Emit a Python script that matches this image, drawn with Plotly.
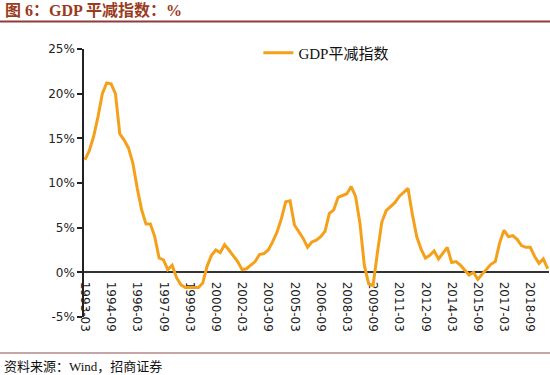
import plotly.graph_objects as go

# Quarterly categories 1993-03 .. 2019-09
years = list(range(1993, 2020))
months = [3, 6, 9, 12]
quarters = [f"{y}-{m:02d}" for y in years for m in months][:107]

# GDP deflator, %
deflator = [
    12.6, 13.6, 15.2, 17.4, 20.0, 21.2, 21.1, 20.0, 15.5, 14.8,
    13.9, 12.2, 9.4, 7.0, 5.4, 5.4, 4.0, 1.6, 1.4, 0.3,
    0.8, -0.6, -1.4, -1.7, -1.7, -1.7, -1.7, -1.2, 0.7, 1.9,
    2.5, 2.2, 3.1, 2.5, 1.9, 1.2, 0.3, 0.4, 0.8, 1.2,
    2.0, 2.1, 2.5, 3.4, 4.5, 6.0, 7.9, 8.0, 5.3, 4.5,
    3.8, 2.8, 3.4, 3.6, 4.0, 4.6, 6.6, 7.0, 8.4, 8.6,
    8.8, 9.6, 8.5, 5.5, 0.8, -1.3, -1.5, 2.2, 5.6, 6.9,
    7.3, 7.8, 8.5, 9.0, 9.4, 6.5, 4.0, 2.6, 1.6, 1.9,
    2.4, 1.5, 2.2, 2.8, 1.1, 1.2, 0.8, 0.2, -0.3, 0.0,
    -0.8, -0.2, 0.4, 0.9, 1.2, 3.3, 4.7, 4.0, 4.1, 3.7,
    3.0, 2.8, 2.8, 1.8, 1.0, 1.5, 0.4,
]

x_ticks = ["1993-03", "1994-09", "1996-03", "1997-09", "1999-03", "2000-09",
           "2002-03", "2003-09", "2005-03", "2006-09", "2008-03", "2009-09",
           "2011-03", "2012-09", "2014-03", "2015-09", "2017-03", "2018-09"]
y_ticks = [-5, 0, 5, 10, 15, 20, 25]
y_ticktext = [f"{v}%" for v in y_ticks]

series_name = "GDP平减指数"
title_text = "图 6：GDP 平减指数：%"
source_text = "资料来源：Wind，招商证券"

W, H = 550, 375
ML, MR, MT, MB = 84, 1, 49, 58
PW, PH = W - ML - MR, H - MT - MB


def px_x(p):
    return (p - ML) / PW


def px_y(p):
    return (H - MB - p) / PH


fig = go.Figure()
fig.add_trace(go.Scatter(
    x=quarters, y=deflator, mode="lines", name=series_name,
    line=dict(color="#F5A01A", width=3),
))

fig.update_layout(
    width=W, height=H,
    margin=dict(l=ML, r=MR, t=MT, b=MB),
    paper_bgcolor="white", plot_bgcolor="white",
    showlegend=True,
    legend=dict(
        x=0.375, y=0.985, xanchor="left", yanchor="middle",
        font=dict(family="Liberation Serif, Noto Sans CJK SC", size=15, color="#111"),
        bgcolor="rgba(0,0,0,0)",
    ),
    xaxis=dict(
        type="category", range=[-0.2, 106.3],
        anchor="free", position=5 / 30,
        showline=True, linecolor="#333", linewidth=2, layer="below traces",
        tickmode="array", tickvals=x_ticks, ticktext=x_ticks,
        tickangle=90, ticks="", ticklabelstandoff=6,
        tickfont=dict(family="DejaVu Sans", size=12, color="#222"),
        showgrid=False, zeroline=False,
    ),
    yaxis=dict(
        range=[-5, 25], tickmode="array", tickvals=y_ticks, ticktext=y_ticktext,
        ticks="outside", ticklen=5, tickwidth=1.5, tickcolor="#222",
        showline=True, linecolor="#222", linewidth=1.5,
        tickfont=dict(family="DejaVu Sans", size=12, color="#222"),
        showgrid=False, zeroline=False,
    ),
    annotations=[
        dict(text=f"<b>{title_text}</b>", xref="paper", yref="paper",
             x=px_x(3), y=px_y(11), xanchor="left", yanchor="middle", showarrow=False,
             font=dict(family="Liberation Serif, Noto Sans CJK SC", size=16, color="#9B3B1E")),
        dict(text=source_text, xref="paper", yref="paper",
             x=px_x(2), y=px_y(366), xanchor="left", yanchor="middle", showarrow=False,
             font=dict(family="Liberation Serif, Noto Sans CJK SC", size=13, color="#111")),
    ],
    shapes=[
        dict(type="line", xref="paper", yref="paper",
             x0=px_x(0), x1=px_x(550), y0=px_y(21.5), y1=px_y(21.5),
             line=dict(color="#8E3B3B", width=2)),
        dict(type="line", xref="paper", yref="paper",
             x0=px_x(0), x1=px_x(550), y0=px_y(353), y1=px_y(353),
             line=dict(color="#8B4A4A", width=1)),
    ],
)

fig.write_html("out.html", config={"displayModeBar": False},
               post_script="document.body.style.margin='0';")
